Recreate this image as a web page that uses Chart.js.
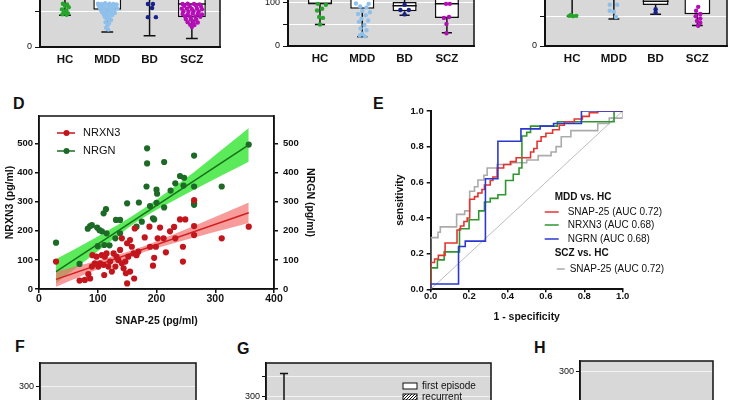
<!DOCTYPE html>
<html>
<head>
<meta charset="utf-8">
<script src="https://cdn.jsdelivr.net/npm/chart.js@4.4.0/dist/chart.umd.min.js"></script>
<style>
  html, body { margin: 0; padding: 0; background: #fff; }
  body { position: relative; width: 735px; height: 400px; overflow: hidden; font-family: 'Liberation Sans', Arial, sans-serif; }
  canvas { position: absolute; }
  .lbl { position: absolute; font-weight: bold; font-size: 16px; line-height: 16px; color: #111; }
</style>
</head>
<body>
<div class="lbl" style="left:13px;top:96px">D</div>
<div class="lbl" style="left:373px;top:96px">E</div>
<div class="lbl" style="left:15px;top:339px">F</div>
<div class="lbl" style="left:237px;top:341px">G</div>
<div class="lbl" style="left:534px;top:340px">H</div>

<canvas id="boxA" width="230" height="152" style="left:0;top:-80px"></canvas>
<canvas id="boxB" width="245" height="151" style="left:240px;top:-80px"></canvas>
<canvas id="boxC" width="240" height="151" style="left:495px;top:-80px"></canvas>
<canvas id="scatterD" width="330" height="240" style="left:0;top:90px"></canvas>
<canvas id="rocE" width="310" height="235" style="left:360px;top:95px"></canvas>
<canvas id="panelF" width="210" height="170" style="left:0;top:330px"></canvas>
<canvas id="panelG" width="270" height="170" style="left:230px;top:330px"></canvas>
<canvas id="panelH" width="215" height="170" style="left:520px;top:330px"></canvas>

<script>
Chart.defaults.font.family = "'Liberation Sans', Arial, sans-serif";
Chart.defaults.color = '#111';
Chart.defaults.animation = false;

// ---- top row box plots ----
const groups = ['HC', 'MDD', 'BD', 'SCZ'];
const groupColors = ['#25a52b', '#8fc0ec', '#17218c', '#b30db6'];

// panel A
const aLow = [89.5, 42, 31.6, 23.7];
const aQ1 = [140, 105, 140, 84];
const aMed = [170, 150, 170, 121];
const aQ3 = [210, 200, 210, 170];
const aHigh = [300, 300, 300, 300];
const aHC = [[0.95,122],[1.05,120],[1.0,116],[1.09,112],[0.93,106],[1.03,103],[0.97,97],[1.07,95],[0.94,92],[1.04,91]];
const aMDD = [[1.78,122],[1.86,121],[1.95,123],[2.05,122],[2.14,121],[2.22,120],
  [1.8,116],[1.9,115],[2.0,117],[2.1,116],[2.2,115],
  [1.83,110],[1.93,109],[2.03,110],[2.13,109],[2.24,108],
  [1.85,104],[1.96,103],[2.06,104],[2.16,103],
  [1.88,98],[1.98,97],[2.08,98],[2.18,96],
  [1.92,91],[2.02,90],[2.12,90],
  [1.95,84],[2.05,83],[2.0,78],[2.09,76],[1.96,70],[2.04,66],[2.0,60],[1.97,54],[2.02,49]];
const aBD = [[2.96,121],[3.08,121],[3.06,110],[2.96,84],[3.15,84]];
const aSCZ = [[3.78,121],[3.9,122],[4.05,121],[4.18,120],
  [3.82,116],[3.95,114],[4.1,116],[4.22,113],
  [3.76,108],[3.88,108],[4.0,107],[4.12,108],[4.24,106],
  [3.8,101],[3.92,100],[4.04,101],[4.16,100],
  [3.78,93],[3.9,92],[4.02,94],[4.14,93],[4.24,92],
  [3.84,86],[3.96,85],[4.08,86],[4.2,85],
  [3.86,78],[3.98,77],[4.1,78],
  [3.9,70],[4.04,71],[4.14,69],
  [3.96,63],[4.06,62],[4.0,56]];

// panel B
const bLow = [49, 21, 70, 30];
const bQ1 = [95.7, 85, 79, 64];
const bMed = [97, 120, 91.5, 96];
const bQ3 = [140, 150, 100, 130];
const bHigh = [250, 250, 250, 250];
const bHC = [[0.95,96],[1.14,94],[1.05,85],[0.93,81],[0.98,66],[1.07,64],[1.0,49]];
const bMDD = [[1.85,97],[2.15,96],[1.95,90],[2.1,88],[2.0,80],[2.18,77],[1.9,73],[2.08,70],[1.98,62],
  [2.14,58],[1.92,55],[2.05,48],[1.96,40],[2.1,36],[2.0,28],[1.94,24],[2.06,22]];
const bBD = [[3.0,94],[2.9,82],[3.1,82],[3.0,72]];
const bSCZ = [[3.98,96],[4.07,96],[3.93,64],[4.05,66],[3.99,50],[3.99,29]];

// panel C
const cLow = [100, 90.6, 106, 69];
const cQ1 = [160, 160, 137.5, 106];
const cMed = [200, 200, 150, 160];
const cQ3 = [250, 250, 200, 200];
const cHigh = [380, 380, 380, 380];
const cHC = [[0.93,101],[1.02,100],[1.1,101],[0.97,104]];
const cMDD = [[1.9,138],[2.08,138],[1.9,118],[2.0,115],[2.05,97]];
const cBD = [[3.0,123],[3.0,112]];
const cSCZ = [[4.02,131],[3.97,118],[4.07,107],[3.96,100],[4.07,92],[3.99,84],[4.07,78],[4.02,68]];

// ---- D: scatter with regressions ----
const snapR = [29,69,78,84,87,90,91,95,98,101,104,107,110,111,112,115,118,121,124,127,130,132,135,138,141,141,144,147,148,150,
  150,152,155,155,158,161,162,163,166,169,180,188,189,194,196,199,202,206,212,216,223,230,232,240,249,245,245,264,264,264,311,357];
const nrxn3 = [94,29,31,51,36,77,116,88,111,77,88,116,83,48,111,122,77,94,60,122,77,111,99,134,174,88,71,94,54,19,
  157,111,168,60,145,122,36,208,116,128,177,214,145,80,107,145,174,211,174,126,198,213,174,239,239,145,94,305,216,185,174,214];
const snapG = [29,69,83,87,90,99,103,107,100,110,114,111,115,131,138,130,138,150,170,175,184,184,183,189,194,196,200,201,200,
  213,213,224,232,240,247,246,264,264,264,264,311,357,166,120];
const nrgn = [159,86,207,216,219,211,202,198,147,260,274,151,191,237,237,174,191,294,297,231,483,431,352,285,243,239,341,327,296,
  436,280,338,363,388,382,355,458,352,295,289,352,496,214,150];
const fitX = [29, 357];
const redFit = [33, 262];
const greenFit = [60, 495];
const bandX = [29, 100, 170, 250, 357];
const redHi = [60, 98, 141, 205, 297];
const redLo = [8, 68, 121, 169, 227];
const greenHi = [102, 180, 265, 380, 553];
const greenLo = [20, 130, 235, 326, 437];

// ---- E: ROC curves ----
const rocRedX = [0,0,0.02,0.04,0.075,0.137,0.155,0.173,0.19,0.203,0.228,0.246,0.267,0.28,0.31,0.324,0.346,0.38,0.415,0.445,0.52,0.537,0.554,0.575,0.6,0.635,0.67,0.696,0.748,0.79,0.826,0.87,1];
const rocRedY = [0,0.15,0.17,0.19,0.26,0.333,0.355,0.38,0.4,0.505,0.52,0.54,0.56,0.585,0.61,0.63,0.68,0.70,0.716,0.738,0.77,0.79,0.83,0.856,0.875,0.895,0.92,0.94,0.955,0.97,0.99,1,1];
const rocGreenX = [0,0,0.035,0.07,0.15,0.2,0.25,0.28,0.31,0.35,0.39,0.43,0.46,0.475,0.5,0.52,0.66,0.955,1];
const rocGreenY = [0,0.12,0.165,0.21,0.34,0.39,0.44,0.49,0.51,0.53,0.61,0.645,0.68,0.86,0.88,0.915,0.94,1,1];
const rocBlueX = [0,0,0.145,0.18,0.285,0.35,0.47,0.57,0.64,0.785,1];
const rocBlueY = [0,0.03,0.24,0.27,0.62,0.83,0.9,0.915,0.93,1,1];
const rocGreyX = [0,0,0.038,0.05,0.135,0.177,0.203,0.228,0.246,0.277,0.294,0.346,0.42,0.5,0.56,0.627,0.653,0.68,0.73,0.87,0.93,1];
const rocGreyY = [0,0.29,0.32,0.35,0.42,0.44,0.55,0.575,0.613,0.64,0.68,0.70,0.71,0.725,0.75,0.77,0.8,0.856,0.89,0.93,0.96,1];
const rocNames = ['SNAP-25 (AUC 0.72)', 'NRXN3 (AUC 0.68)', 'NGRN (AUC 0.68)', 'SNAP-25 (AUC 0.72)'];
const rocColors = ['#e23530', '#2f962f', '#2b38cf', '#ababab'];

// ---- G: partly visible whisker ----
const gX = [0.8];
const gTop = [357];
const gBottom = [57];

function pairs(xs, ys) { return xs.map((x, i) => ({x, y: ys[i]})); }
function pts(list) { return list.map(([x, y]) => ({x, y})); }
function tickList(vals) { return s => { s.ticks = vals.map(value => ({value})); }; }

// grey plot background + outline
Chart.register({
  id: 'plotBg',
  beforeDraw(chart, args, opts) {
    if (!opts.color) return;
    const {ctx, chartArea: a} = chart;
    ctx.save();
    ctx.fillStyle = opts.color;
    ctx.fillRect(a.left, a.top, a.width, a.height);
    ctx.restore();
  }
});
Chart.register({
  id: 'frame',
  afterDraw(chart, args, opts) {
    if (!opts.width) return;
    const {ctx, chartArea: a} = chart;
    ctx.save();
    ctx.strokeStyle = '#111';
    ctx.lineWidth = opts.width;
    ctx.strokeRect(a.left, a.top, a.width, a.height);
    ctx.restore();
  }
});

function boxChart(id, c) {
  const whisk = [], caps = [], meds = [], boxes = [];
  for (let i = 0; i < 4; i++) {
    const x = i + 1;
    whisk.push({x, y: c.low[i]}, {x, y: c.q1[i]}, {x, y: null}, {x, y: c.q3[i]}, {x, y: c.high[i]}, {x, y: null});
    caps.push({x: x - c.cap, y: c.low[i]}, {x: x + c.cap, y: c.low[i]}, {x, y: null});
    meds.push({x: x - c.box / 2, y: c.med[i]}, {x: x + c.box / 2, y: c.med[i]}, {x, y: null});
    boxes.push({x, y: [c.q1[i], c.q3[i]]});
  }
  const datasets = c.points.map((p, i) => ({
    type: 'scatter', data: pts(p), backgroundColor: groupColors[i], borderColor: groupColors[i],
    pointRadius: 2.2, borderWidth: 0
  }));
  const seg = {type: 'line', borderColor: '#111', borderWidth: 1.5, pointRadius: 0, spanGaps: false};
  datasets.push(
    Object.assign({data: meds}, seg),
    Object.assign({data: caps}, seg),
    Object.assign({data: whisk}, seg),
    {type: 'bar', data: boxes, backgroundColor: '#fff', borderColor: '#111', borderWidth: 1.5,
     barPercentage: c.box, categoryPercentage: 1, borderSkipped: false}
  );
  new Chart(document.getElementById(id), {
    type: 'scatter',
    data: {datasets},
    options: {
      responsive: false,
      layout: {padding: {top: 0, left: 0, bottom: 0, right: c.padRight}},
      plugins: {legend: {display: false}, tooltip: {enabled: false}, plotBg: {color: '#d8d8d8'}, frame: {width: 1.5}},
      scales: {
        x: {
          type: 'linear', min: c.xMin, max: c.xMax, offset: false,
          afterBuildTicks: tickList([1, 2, 3, 4]),
          afterFit: s => { s.height = 25; },
          grid: {display: false, drawTicks: false, offset: false},
          border: {color: '#111', width: 2},
          ticks: {callback: v => groups[Math.round(v) - 1], font: {size: 11.5, weight: 'bold'}, padding: 6, maxRotation: 0}
        },
        y: {
          min: 0, max: c.yMax,
          afterBuildTicks: tickList(c.yTicks),
          afterFit: s => { s.width = c.axisW; },
          grid: {color: '#fff', tickColor: '#111', tickLength: 5, lineWidth: 1},
          border: {color: '#111', width: 2},
          ticks: {callback: v => (v % c.labelEvery === 0 ? v : ''), font: {size: 9}, padding: 3}
        }
      }
    }
  });
}

boxChart('boxA', {low: aLow, q1: aQ1, med: aMed, q3: aQ3, high: aHigh, points: [aHC, aMDD, aBD, aSCZ],
  xMin: 0.41, xMax: 4.665, yMax: 334, yTicks: [0, 100, 200, 300], labelEvery: 200,
  box: 0.66, cap: 0.14, axisW: 40, padRight: 10});
boxChart('boxB', {low: bLow, q1: bQ1, med: bMed, q3: bQ3, high: bHigh, points: [bHC, bMDD, bBD, bSCZ],
  xMin: 0.244, xMax: 4.641, yMax: 268, yTicks: [0, 50, 100, 150, 200, 250], labelEvery: 100,
  box: 0.57, cap: 0.12, axisW: 48, padRight: 11});
boxChart('boxC', {low: cLow, q1: cQ1, med: cMed, q3: cQ3, high: cHigh, points: [cHC, cMDD, cBD, cSCZ],
  xMin: 0.35, xMax: 4.71, yMax: 393.75, yTicks: [0, 100, 200, 300], labelEvery: 200,
  box: 0.62, cap: 0.13, axisW: 50, padRight: 8});

// D legend inside plot
const dLegend = {
  id: 'dLegend',
  afterDraw(chart) {
    const {ctx, chartArea: a} = chart;
    const items = [['NRXN3', '#c3161c', 17], ['NRGN', '#1d6a27', 35]];
    ctx.save();
    ctx.font = "11px 'Liberation Sans', Arial, sans-serif";
    ctx.textBaseline = 'middle';
    items.forEach(([name, col, dy]) => {
      const y = a.top + dy;
      ctx.strokeStyle = col; ctx.lineWidth = 1.5;
      ctx.beginPath(); ctx.moveTo(a.left + 18, y); ctx.lineTo(a.left + 36, y); ctx.stroke();
      ctx.fillStyle = col;
      ctx.beginPath(); ctx.arc(a.left + 27.5, y, 3, 0, Math.PI * 2); ctx.fill();
      ctx.fillStyle = '#111';
      ctx.fillText(name, a.left + 44, y);
    });
    ctx.restore();
  }
};

const boldTick = {font: {size: 9.5, weight: 'bold'}};
new Chart(document.getElementById('scatterD'), {
  type: 'scatter',
  data: {
    datasets: [
      {data: pairs(snapR, nrxn3), backgroundColor: '#c3161c', borderColor: '#c3161c', pointRadius: 3.1, borderWidth: 0},
      {data: pairs(snapG, nrgn), backgroundColor: '#1d6a27', borderColor: '#1d6a27', pointRadius: 3.1, borderWidth: 0},
      {type: 'line', data: pairs(fitX, redFit), borderColor: '#d21f1f', borderWidth: 1.5, pointRadius: 0},
      {type: 'line', data: pairs(fitX, greenFit), borderColor: '#17701a', borderWidth: 1.5, pointRadius: 0},
      {type: 'line', data: pairs(bandX, redHi), borderColor: 'transparent', pointRadius: 0, tension: 0.3,
       fill: '+1', backgroundColor: 'rgba(243,112,112,0.7)'},
      {type: 'line', data: pairs(bandX, redLo), borderColor: 'transparent', pointRadius: 0, tension: 0.3, fill: false},
      {type: 'line', data: pairs(bandX, greenHi), borderColor: 'transparent', pointRadius: 0, tension: 0.3,
       fill: '+1', backgroundColor: 'rgba(72,232,72,0.9)'},
      {type: 'line', data: pairs(bandX, greenLo), borderColor: 'transparent', pointRadius: 0, tension: 0.3, fill: false}
    ]
  },
  options: {
    responsive: false,
    layout: {padding: {top: 26, left: 0, right: 0, bottom: 0}},
    plugins: {legend: {display: false}, tooltip: {enabled: false}, frame: {width: 1.5}},
    scales: {
      x: {
        type: 'linear', min: 0, max: 400,
        afterBuildTicks: tickList([0, 100, 200, 300, 400]),
        afterFit: s => { s.height = 41; },
        grid: {drawOnChartArea: false, tickLength: 4, color: '#111', lineWidth: 1.5},
        border: {color: '#111', width: 1.5},
        ticks: {font: {size: 10.5, weight: 'bold'}, padding: 0, maxRotation: 0},
        title: {display: true, text: 'SNAP-25 (pg/ml)', font: {size: 10.5, weight: 'bold'}, padding: {top: 0, bottom: 2.7}}
      },
      y: {
        type: 'linear', position: 'left', min: 0, max: 594,
        afterBuildTicks: tickList([0, 100, 200, 300, 400, 500]),
        afterFit: s => { s.width = 39; },
        grid: {drawOnChartArea: false, tickLength: 4, color: '#111', lineWidth: 1.5},
        border: {color: '#111', width: 1.5},
        ticks: Object.assign({padding: 2}, boldTick),
        title: {display: true, text: 'NRXN3 (pg/ml)', font: {size: 10.5, weight: 'bold'}, padding: {top: 3.7, bottom: 0}}
      },
      y2: {
        type: 'linear', position: 'right', min: 0, max: 594,
        afterBuildTicks: tickList([0, 100, 200, 300, 400, 500]),
        afterFit: s => { s.width = 56; },
        grid: {drawOnChartArea: false, tickLength: 4, color: '#111', lineWidth: 1.5},
        border: {color: '#111', width: 1.5},
        ticks: Object.assign({padding: 5}, boldTick),
        title: {display: true, text: 'NRGN (pg/ml)', font: {size: 10.5, weight: 'bold'}, padding: {top: 13.7, bottom: 0}}
      }
    }
  },
  plugins: [dLegend]
});

// E legend
const rocLegend = {
  id: 'rocLegend',
  afterDraw(chart) {
    const {ctx, chartArea: a} = chart;
    const x0 = a.left;
    ctx.save();
    ctx.textBaseline = 'middle';
    ctx.fillStyle = '#111';
    ctx.font = "bold 10px 'Liberation Sans', Arial, sans-serif";
    ctx.fillText('MDD vs. HC', x0 + 124, a.top + 86);
    ctx.fillText('SCZ vs. HC', x0 + 124, a.top + 142);
    ctx.font = "10px 'Liberation Sans', Arial, sans-serif";
    const rows = [[101, 114, 128, 137], [114, 114, 128, 137], [128, 114, 128, 137], [158, 126, 134, 139]];
    rows.forEach(([dy, l0, l1, tx], i) => {
      const y = a.top + dy;
      ctx.strokeStyle = rocColors[i]; ctx.lineWidth = 1.5;
      ctx.beginPath(); ctx.moveTo(x0 + l0, y); ctx.lineTo(x0 + l1, y); ctx.stroke();
      ctx.fillStyle = '#111';
      ctx.fillText(rocNames[i], x0 + tx, y);
    });
    ctx.restore();
  }
};

const rocLine = {type: 'line', pointRadius: 0, borderWidth: 1.6, stepped: true, fill: false};
new Chart(document.getElementById('rocE'), {
  type: 'scatter',
  data: {
    datasets: [
      Object.assign({data: pairs(rocBlueX, rocBlueY), borderColor: rocColors[2]}, rocLine),
      Object.assign({data: pairs(rocRedX, rocRedY), borderColor: rocColors[0]}, rocLine),
      Object.assign({data: pairs(rocGreenX, rocGreenY), borderColor: rocColors[1]}, rocLine),
      Object.assign({data: pairs(rocGreyX, rocGreyY), borderColor: rocColors[3]}, rocLine),
      {type: 'line', data: [{x: 0, y: 0}, {x: 1, y: 1}], borderColor: '#bcbcbc', borderWidth: 1, pointRadius: 0}
    ]
  },
  options: {
    responsive: false,
    layout: {padding: {top: 16, left: 0, right: 47.3, bottom: 0}},
    plugins: {legend: {display: false}, tooltip: {enabled: false}},
    scales: {
      x: {
        type: 'linear', min: 0, max: 1,
        afterBuildTicks: tickList([0, 0.2, 0.4, 0.6, 0.8, 1]),
        afterFit: s => { s.height = 40.7; },
        grid: {drawOnChartArea: false, tickLength: 3, color: '#111', lineWidth: 1.5},
        border: {color: '#111', width: 2},
        ticks: {callback: v => v.toFixed(1), font: {size: 9.5, weight: 'bold'}, padding: -2, maxRotation: 0},
        title: {display: true, text: '1 - specificity', font: {size: 10.5, weight: 'bold'}, padding: {top: 0, bottom: 6.7}}
      },
      y: {
        type: 'linear', min: 0, max: 1,
        afterBuildTicks: tickList([0, 0.2, 0.4, 0.6, 0.8, 1]),
        afterFit: s => { s.width = 70.7; },
        grid: {drawOnChartArea: false, tickLength: 4, color: '#111', lineWidth: 1.5},
        border: {color: '#111', width: 2},
        ticks: {callback: v => v.toFixed(1), font: {size: 9.5, weight: 'bold'}, padding: 3},
        title: {display: true, text: 'sensitivity', font: {size: 10.5, weight: 'bold'}, padding: {top: 33.7, bottom: 0}}
      }
    }
  },
  plugins: [rocLegend]
});

// bottom row (mostly cut off)
function greyPanel(id, c, extra) {
  return new Chart(document.getElementById(id), {
    type: 'scatter',
    data: {datasets: extra || []},
    options: {
      responsive: false,
      layout: {padding: {top: c.padTop, left: 0, right: c.padRight, bottom: 0}},
      plugins: {legend: {display: false}, tooltip: {enabled: false}, plotBg: {color: '#d8d8d8'}, frame: {width: 1.5}},
      scales: {
        x: {type: 'linear', min: 0, max: 10, display: false},
        y: {
          min: c.yMin, max: c.yMax,
          afterBuildTicks: tickList(c.yTicks),
          afterFit: s => { s.width = c.axisW; },
          grid: {color: '#f2f2f2', tickColor: '#111', tickLength: 4, lineWidth: 1},
          border: {color: '#111', width: 1.5},
          ticks: {callback: v => (v % 100 === 0 ? v : ''), font: {size: 9}, padding: 2}
        }
      }
    },
    plugins: c.plugins || []
  });
}

greyPanel('panelF', {padTop: 33, padRight: 14, axisW: 40, yMin: 20, yMax: 362.5, yTicks: [100, 200, 300]});

const gLegend = {
  id: 'gLegend',
  afterDraw(chart) {
    const {ctx, chartArea: a} = chart;
    ctx.save();
    ctx.font = "10px 'Liberation Sans', Arial, sans-serif";
    ctx.textBaseline = 'middle';
    ctx.lineWidth = 1;
    ctx.strokeStyle = '#111';
    // first episode: open box
    ctx.fillStyle = '#fff';
    ctx.fillRect(a.left + 137, a.top + 20, 14, 6);
    ctx.strokeRect(a.left + 137, a.top + 20, 14, 6);
    ctx.fillStyle = '#111';
    ctx.fillText('first episode', a.left + 156, a.top + 23);
    // recurrent: hatched box
    ctx.fillStyle = '#fff';
    ctx.fillRect(a.left + 137, a.top + 31, 14, 6);
    ctx.save();
    ctx.beginPath(); ctx.rect(a.left + 137, a.top + 31, 14, 6); ctx.clip();
    for (let k = -6; k < 16; k += 3) {
      ctx.beginPath(); ctx.moveTo(a.left + 137 + k, a.top + 37); ctx.lineTo(a.left + 143 + k, a.top + 31); ctx.stroke();
    }
    ctx.restore();
    ctx.strokeRect(a.left + 137, a.top + 31, 14, 6);
    ctx.fillStyle = '#111';
    ctx.fillText('recurrent', a.left + 156, a.top + 34);
    ctx.restore();
  }
};
const gWhisk = [];
const gCaps = [];
gX.forEach((x, i) => {
  gWhisk.push({x, y: gTop[i]}, {x, y: gBottom[i]}, {x, y: null});
  gCaps.push({x: x - 0.18, y: gTop[i]}, {x: x + 0.18, y: gTop[i]}, {x, y: null});
});
greyPanel('panelG', {padTop: 33, padRight: 9, axisW: 36, yMin: 57.1, yMax: 383.3, yTicks: [100, 150, 200, 250, 300, 350],
  plugins: [gLegend]},
  [{type: 'line', data: gCaps, borderColor: '#111', borderWidth: 1.5, pointRadius: 0},
   {type: 'line', data: gWhisk, borderColor: '#111', borderWidth: 1.5, pointRadius: 0}]);

greyPanel('panelH', {padTop: 31, padRight: 22, axisW: 60, yMin: -20, yMax: 327.5, yTicks: [0, 100, 200, 300]});
</script>
</body>
</html>
